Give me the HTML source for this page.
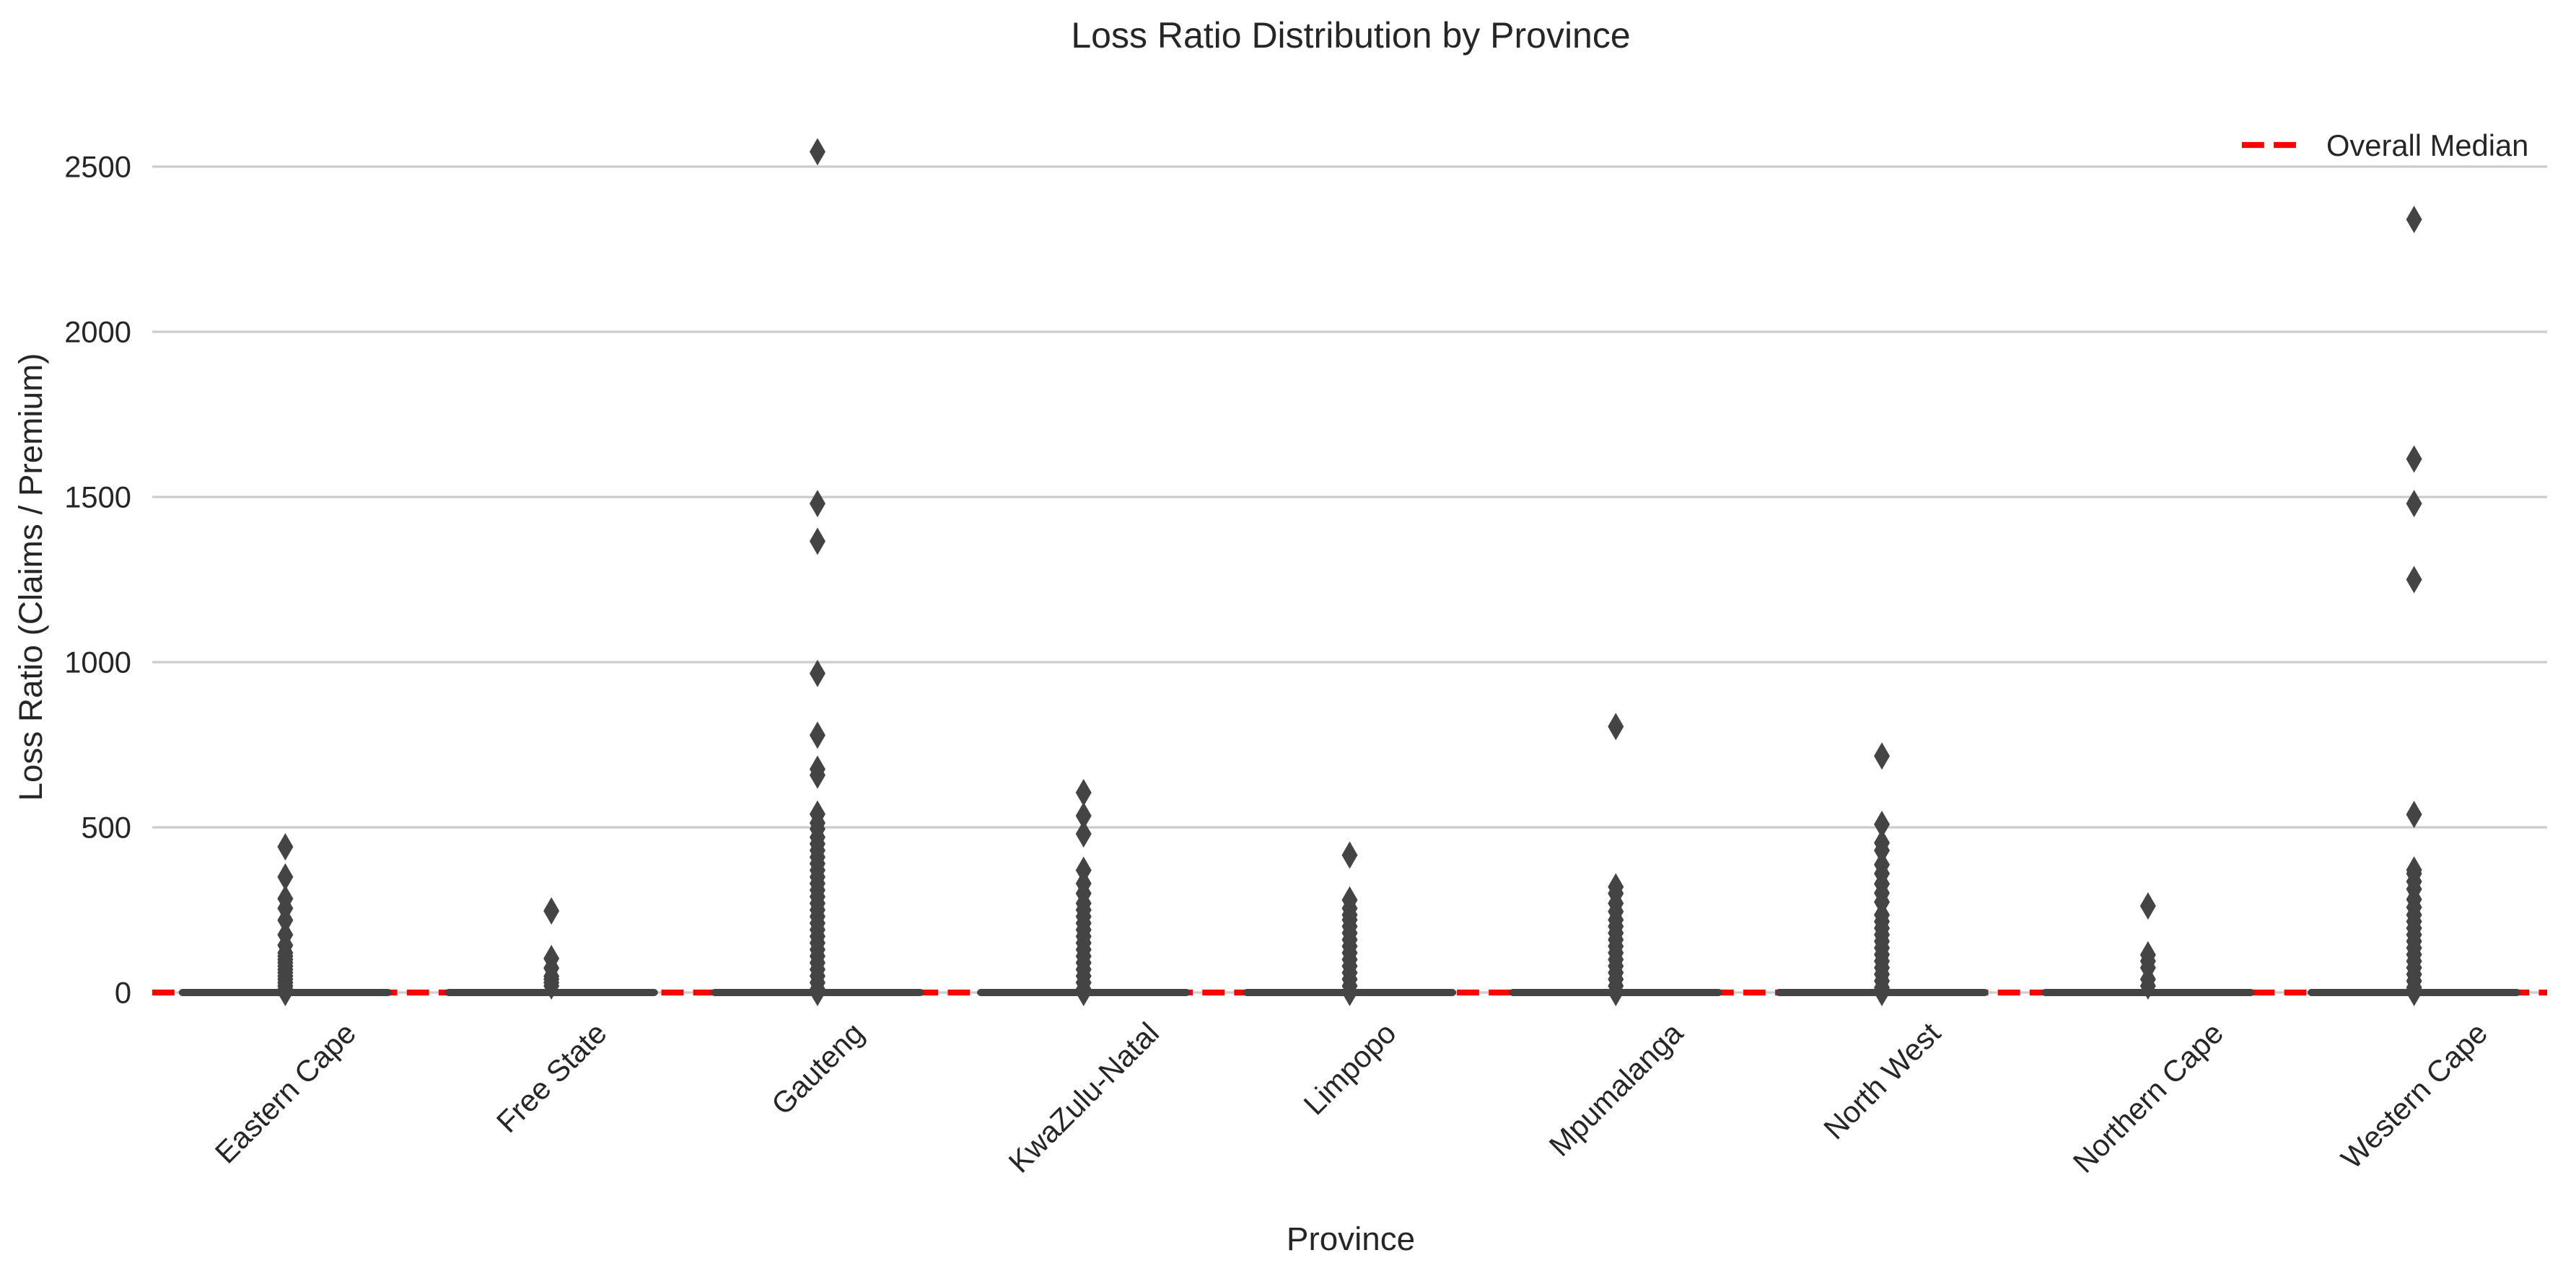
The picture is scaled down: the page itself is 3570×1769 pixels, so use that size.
<!DOCTYPE html>
<html><head><meta charset="utf-8"><style>
html,body{margin:0;padding:0;background:#fff;}
svg{display:block;font-family:"Liberation Sans",Arial,sans-serif;}
</style></head><body>
<svg id="chart" width="3570" height="1769" viewBox="0 0 3570 1769">
<text x="1872" y="66" text-anchor="middle" font-size="50" fill="#262626">Loss Ratio Distribution by Province</text>
<g id="grid"></g>
<g id="yticks"></g>
<g id="median"></g>
<g id="boxes"></g>
<g id="xticks"></g>
<text transform="translate(58,800) rotate(-90)" text-anchor="middle" font-size="45.8" fill="#262626">Loss Ratio (Claims / Premium)</text>
<text x="1872" y="1733" text-anchor="middle" font-size="45.8" fill="#262626">Province</text>
<g>
<line x1="3107" y1="201" x2="3190" y2="201" stroke="#ff0000" stroke-width="8.3" stroke-dasharray="30.8,13.3"/>
<text x="3224" y="216" font-size="41.7" fill="#262626">Overall Median</text>
</g>
</svg>
<script>
const categories = ["Eastern Cape","Free State","Gauteng","KwaZulu-Natal","Limpopo","Mpumalanga","North West","Northern Cape","Western Cape"];
const medians = [0,0,0,0,0,0,0,0,0];
const q1 = [0,0,0,0,0,0,0,0,0];
const q3 = [0,0,0,0,0,0,0,0,0];
const overallMedian = 0;
const yTicks = [0,500,1000,1500,2000,2500];
const outEasternCape = [441,350,284,255,219,175,143,120,110,100,90,80,70,60,50,40,30,20,10,0];
const outFreeState = [247,103,74,49,40,30,20];
const outGauteng = [2545,1480,1366,966,779,676,658,540,513,495,470,450,430,410,390,370,350,330,310,290,270,250,230,210,190,170,150,130,110,90,70,50,30,10,0];
const outKwaZuluNatal = [605,535,480,370,330,300,270,250,230,210,190,170,150,130,110,90,70,50,30,10,0];
const outLimpopo = [416,280,255,235,220,200,180,160,140,120,100,80,60,40,20,0];
const outMpumalanga = [805,320,300,270,245,220,200,180,160,140,120,100,80,60,40,20,0];
const outNorthWest = [716,509,453,430,387,360,329,301,274,235,215,195,175,155,135,115,95,75,55,35,15,0];
const outNorthernCape = [262,114,95,75,40,20];
const outWesternCape = [2340,1615,1480,1250,539,371,360,336,313,282,258,235,215,195,175,155,135,115,95,75,55,35,15,0];
const outliers = [outEasternCape,outFreeState,outGauteng,outKwaZuluNatal,outLimpopo,outMpumalanga,outNorthWest,outNorthernCape,outWesternCape];

const NS = "http://www.w3.org/2000/svg";
const X0 = 211, X1 = 3530, Y0 = 1376, Y2500 = 231;
const step = (X1 - X0) / categories.length;
function xScale(i){ return X0 + step * (i + 0.5); }
function yScale(v){ return Y0 - (v / 2500) * (Y0 - Y2500); }
function mk(tag, attrs, parent){ const e = document.createElementNS(NS, tag); for (const k in attrs) e.setAttribute(k, attrs[k]); parent.appendChild(e); return e; }

const grid = document.getElementById('grid'), yt = document.getElementById('yticks');
yTicks.forEach(t => {
  const l = mk('line', {x1:X0, x2:X1, y1:yScale(t), y2:yScale(t), stroke:'#cccccc', 'stroke-width':3.2}, grid);
  
  
  const tx = mk('text', {x:182, y:yScale(t), 'text-anchor':'end', 'dominant-baseline':'central', 'font-size':41.7, fill:'#262626'}, yt);
  tx.textContent = t;
  
  
});

const med = document.getElementById('median');
const ml = mk('line', {x1:X0, x2:X1, y1:yScale(overallMedian), y2:yScale(overallMedian), stroke:'#ff0000', 'stroke-width':8.3, 'stroke-dasharray':'30.8,13.3'}, med);



const boxes = document.getElementById('boxes'), xt = document.getElementById('xticks');
categories.forEach((c, i) => {
  const cx = xScale(i), hw = step * 0.4;
  const g = mk('g', {}, boxes);
  
  
  outliers[i].forEach(v => {
    const y = yScale(v);
    const p = mk('polygon', {points:`${cx},${y-19} ${cx+11},${y} ${cx},${y+19} ${cx-11},${y}`, fill:'#444444'}, g);
    
    
  });
  const yb = (yScale(q1[i]) + yScale(q3[i])) / 2;
  const b = mk('line', {x1:cx-hw+5, x2:cx+hw-5, y1:yb, y2:yb, stroke:'#444444', 'stroke-width':Math.max(10, yScale(q1[i]) - yScale(q3[i]) + 10), 'stroke-linecap':'round'}, g);
  
  
  const m = mk('line', {x1:cx-hw, x2:cx+hw, y1:yScale(medians[i]), y2:yScale(medians[i]), stroke:'#444444', 'stroke-width':4}, g);
  
  
  const t = mk('text', {'text-anchor':'middle', 'dominant-baseline':'central', 'font-size':41.7, fill:'#262626'}, xt);
  t.textContent = c;
  
  
  const L = t.getComputedTextLength();
  const hgt = (L + 42) * 0.7071;
  t.setAttribute('transform', `translate(${cx},${1410 + hgt/2}) rotate(-45)`);
});
</script>
</body></html>
